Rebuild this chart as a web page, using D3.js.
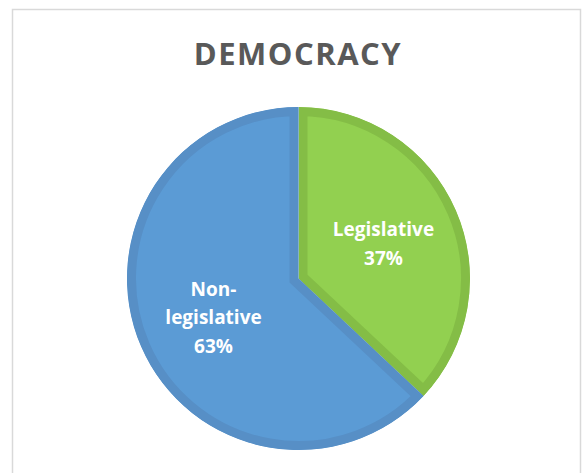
<!DOCTYPE html>
<html>
<head>
<meta charset="utf-8">
<script src="https://cdn.jsdelivr.net/npm/d3@7"></script>
<style>
  body { margin: 0; background: #fff; }
  text { font-family: "Open Sans", sans-serif; font-weight: bold; }
</style>
</head>
<body>
<div id="chart"></div>
<script>
var categories = ["Legislative", "Non-legislative"];
var values = [37, 63];
var labelLines = [["Legislative", "37%"], ["Non-", "legislative", "63%"]];

var width = 583;
var height = 473;
var cx = 298.5;
var cy = 278.5;
var radius = 171.5;

// Fill and border colour per slice.
var fills = d3.scaleOrdinal().domain(categories).range(["#92d050", "#5b9bd5"]);
var borders = d3.scaleOrdinal().domain(categories).range(["#84bd46", "#578fc6"]);

var svg = d3.select("#chart")
  .append("svg")
  .attr("width", width)
  .attr("height", height);

// Chart frame.
svg.append("rect")
  .attr("x", 12.5)
  .attr("y", 9.5)
  .attr("width", 568)
  .attr("height", 480)
  .attr("fill", "none")
  .attr("stroke", "#d9d9d9")
  .attr("stroke-width", 1.5);

svg.append("text")
  .attr("x", 298)
  .attr("y", 65)
  .attr("text-anchor", "middle")
  .attr("fill", "#595959")
  .style("font-size", "31px")
  .style("letter-spacing", "1.5px")
  .text("DEMOCRACY");

var pie = d3.pie().sort(null)(values);

var arc = d3.arc().innerRadius(0).outerRadius(radius);
var labelArc = d3.arc().innerRadius(radius * 0.54).outerRadius(radius * 0.54);

var g = svg.append("g")
  .attr("transform", "translate(" + cx + "," + cy + ")");

var defs = svg.append("defs");
pie.forEach(function (d, i) {
  defs.append("clipPath")
    .attr("id", "clip-" + i)
    .append("path")
    .attr("d", arc(d));
});

// Slice, with a border drawn on the inside only.
g.selectAll(".slice")
  .data(pie)
  .enter()
  .append("path")
  .attr("class", "slice")
  .attr("d", arc)
  .attr("clip-path", function (d, i) { return "url(#clip-" + i + ")"; })
  .attr("fill", function (d, i) { return fills(categories[i]); })
  .attr("stroke", function (d, i) { return borders(categories[i]); })
  .attr("stroke-width", 18)
  .attr("stroke-linejoin", "miter");

var lineHeight = 28.5;
g.selectAll(".label")
  .data(pie)
  .enter()
  .append("text")
  .attr("class", "label")
  .attr("text-anchor", "middle")
  .attr("fill", "#fff")
  .style("font-size", "19px")
  .attr("transform", function (d) { return "translate(" + labelArc.centroid(d) + ")"; })
  .each(function (d, i) {
    var lines = labelLines[i];
    var t = d3.select(this);
    lines.forEach(function (line, j) {
      t.append("tspan")
        .attr("x", 0)
        .attr("y", (j - (lines.length - 1) / 2) * lineHeight + 9)
        .text(line);
    });
  });
</script>
</body>
</html>
